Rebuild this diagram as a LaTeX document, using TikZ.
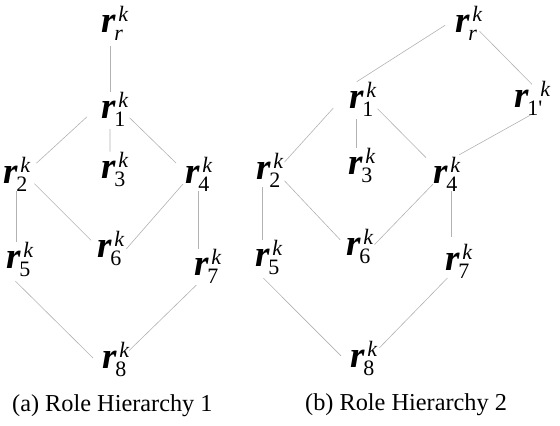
\documentclass[tikz,border=0pt]{standalone}
\usepackage{fontspec}
\setmainfont{Liberation Serif}
\usepackage{tikz}
\def\RoleLabel#1#2{%
 {\fontsize{37}{37}\selectfont\bfseries\itshape r}%
 \rlap{\kern-1pt\raisebox{-8pt}{\fontsize{22}{22}\selectfont #2}}%
 \kern#1\raisebox{11pt}{\fontsize{22}{22}\selectfont\itshape k}}
\tikzset{x=1pt, y=-1pt,
     role/.style={anchor=base west, inner sep=0pt, outer sep=0pt},
     role link/.style={draw=black!30, line width=0.6pt},
     caption text/.style={anchor=base west, inner sep=0pt,
           font=\fontsize{24.3}{24.3}\selectfont}
     }
\begin{document}
\begin{tikzpicture}
\useasboundingbox (0,0) rectangle (560,426);
% (a)
\node[role] (ar) at (101,32) {\RoleLabel{3pt}{\itshape r}};
\node[role] (a1) at (101,118) {\RoleLabel{3pt}{1}};
\node[role] (a2) at (3,183) {\RoleLabel{3pt}{2}};
\node[role] (a3) at (101,178) {\RoleLabel{3pt}{3}};
\node[role] (a4) at (185,183) {\RoleLabel{3pt}{4}};
\node[role] (a5) at (6,268) {\RoleLabel{3pt}{5}};
\node[role] (a6) at (97,257) {\RoleLabel{3pt}{6}};
\node[role] (a7) at (194,275) {\RoleLabel{3pt}{7}};
\node[role] (a8) at (102,368) {\RoleLabel{3pt}{8}};
\draw[role link, shorten <=6pt] (ar.-105) -- (a1.105);
\draw[role link, shorten <=3pt] (a1.-105) -- (a3.105);
\draw[role link, shorten <=19pt, shorten >=8.6pt] (a1.160) -- (a2.20);
\draw[role link, shorten <=2pt, shorten >=12.4pt] (a1.-29) -- (a4.171);
\draw[role link] (a2.south) -- (a2.south |- a5.north);
\draw[role link, shorten <=6pt, shorten >=8.4pt] (a2.-22) -- (a6.173);
\draw[role link, shorten <=3pt, shorten >=3.5pt] (a4.210) -- (a6.-14);
\draw[role link] (a4.south) -- (a4.south |- a7.north);
\draw[role link, shorten <=7pt, shorten >=12.7pt] (a5.242) -- (a8.210);
\draw[role link, shorten <=3pt] (a7.242) -- (a8.32);
\node[caption text] (capa) at (12,411) {(a) Role Hierarchy 1};
% (b)
\node[role] (br) at (455,32) {\RoleLabel{3pt}{\itshape r}};
\node[role] (b1) at (349,108) {\RoleLabel{3pt}{1}};
\node[role] (b1p) at (514,107) {\RoleLabel{12pt}{1\textquotesingle}};
\node[role] (b2) at (256,179) {\RoleLabel{3pt}{2}};
\node[role] (b3) at (348,174) {\RoleLabel{3pt}{3}};
\node[role] (b4) at (433,183) {\RoleLabel{3pt}{4}};
\node[role] (b5) at (255,266) {\RoleLabel{3pt}{5}};
\node[role] (b6) at (346,255) {\RoleLabel{3pt}{6}};
\node[role] (b7) at (445,270) {\RoleLabel{3pt}{7}};
\node[role] (b8) at (350,367) {\RoleLabel{3pt}{8}};
\draw[role link, shorten <=11.7pt] (br.164) -- (b1.109);
\draw[role link, shorten <=-3.7pt, shorten >=-5pt] (br.-39) -- (b1p.102);
\draw[role link, shorten <=23.5pt, shorten >=2pt] (b1.149) -- (b2.25);
\draw[role link, shorten <=3pt] (b1.-109) -- (b1.-109 |- b3.north);
\draw[role link, shorten <=2pt, shorten >=9.9pt] (b1.-32) -- (b4.146);
\draw[role link, shorten >=4pt] (b1p.265) -- (b4.62);
\draw[role link] (b2.248) -- (b2.248 |- b5.north);
\draw[role link, shorten <=2pt, shorten >=8.6pt] (b2.-35) -- (b6.west);
\draw[role link, shorten >=2pt] (b4.217) -- (b6.east);
\draw[role link, shorten >=7pt] (b4.-76) -- (b4.-76 |- b7.north);
\draw[role link, shorten <=5.7pt, shorten >=12.7pt] (b5.242) -- (b8.207);
\draw[role link, shorten >=3.2pt] (b7.237) -- (b8.30);
\node[caption text] (capb) at (305,410) {(b) Role Hierarchy 2};
\end{tikzpicture}
\end{document}
